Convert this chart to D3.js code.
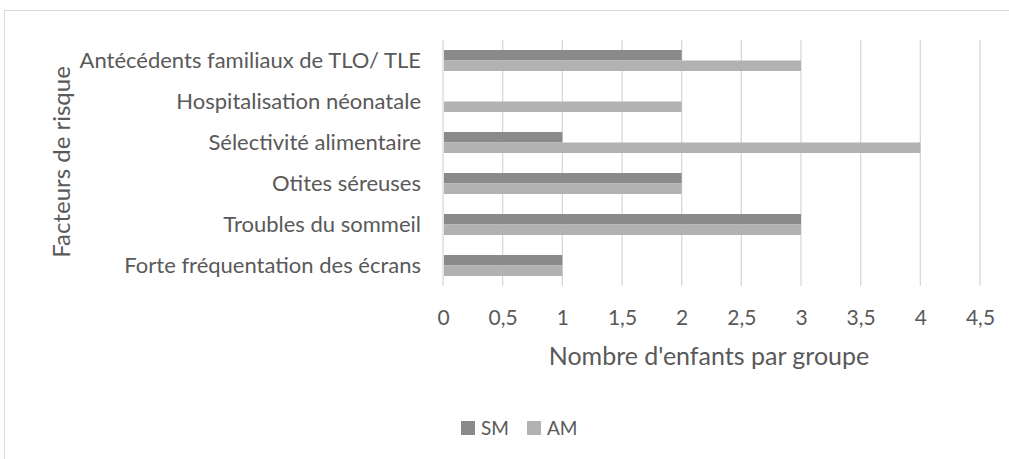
<!DOCTYPE html>
<html><head><meta charset="utf-8">
<script src="https://cdn.jsdelivr.net/npm/d3@7"></script>
<style>body{margin:0;background:#fff}svg{display:block}text{font-family:Lato,sans-serif;fill:#595959}</style>
</head><body><svg id="c" width="1009" height="459"></svg>
<script>
const categories = ["Antécédents familiaux de TLO/ TLE","Hospitalisation néonatale","Sélectivité alimentaire","Otites séreuses","Troubles du sommeil","Forte fréquentation des écrans"];
const seriesNames = ["SM","AM"];
const smValues = [2,0,1,2,3,1];
const amValues = [3,2,4,2,3,1];
const xTicks = [0,0.5,1,1.5,2,2.5,3,3.5,4,4.5];
const colors = {SM:"#8a8a8a", AM:"#b2b2b2"};

const svg = d3.select("#c");
svg.append("rect").attr("x",4.5).attr("y",10.5).attr("width",1010).attr("height",460)
  .attr("fill","none").attr("stroke","#d9d9d9");

const x = d3.scaleLinear().domain([0,4.5]).range([443,980]);
const y = d3.scaleBand().domain(categories).range([40,286]);
const inner = d3.scaleBand().domain(seriesNames).range([y.bandwidth()/2-10.5, y.bandwidth()/2+10.5]);

svg.append("g").selectAll("line").data(xTicks).join("line")
  .attr("x1",d=>x(d)).attr("x2",d=>x(d)).attr("y1",40).attr("y2",286)
  .attr("stroke","#d9d9d9").attr("stroke-width",1.3);

const data = categories.map((c,i)=>({c, SM:smValues[i], AM:amValues[i]}));
const g = svg.append("g");
seriesNames.forEach(s=>{
  g.selectAll("rect."+s).data(data).join("rect").attr("class",s)
    .attr("x",x(0)+1).attr("y",d=>y(d.c)+inner(s))
    .attr("width",d=>Math.max(0,x(d[s])-x(0)-1)).attr("height",inner.bandwidth())
    .attr("fill",colors[s]);
});

const yAxis = d3.axisLeft(y).tickSize(0).tickPadding(0);
const ya = svg.append("g").attr("transform","translate(421,0)").call(yAxis);
ya.select(".domain").remove();
ya.selectAll("text").attr("dy","0.34em").style("font-size","22px").style("fill","#595959").style("font-family","Lato");

const xAxis = d3.axisBottom(x).tickValues(xTicks).tickSize(0).tickPadding(0)
  .tickFormat(d=>String(d).replace(".",","));
const xa = svg.append("g").attr("transform","translate(0,0)").call(xAxis);
xa.select(".domain").remove();
xa.selectAll("text").attr("y",325).attr("dy",0).style("font-size","21px").style("fill","#595959").style("font-family","Lato");

svg.append("text").attr("x",709).attr("y",365).attr("text-anchor","middle")
  .style("font-size","25px").text("Nombre d'enfants par groupe");
svg.append("text").attr("transform","translate(70,162) rotate(-90)").attr("text-anchor","middle")
  .style("font-size","24px").text("Facteurs de risque");

const leg = svg.append("g");
const legX = [461,527];
seriesNames.forEach((s,i)=>{
  leg.append("rect").attr("x",legX[i]).attr("y",421).attr("width",14).attr("height",14).attr("fill",colors[s]);
  leg.append("text").attr("x",legX[i]+20).attr("y",435).style("font-size","19px").text(s);
});
</script></body></html>
